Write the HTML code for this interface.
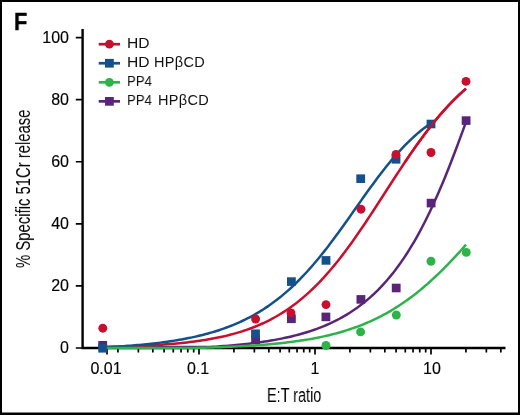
<!DOCTYPE html>
<html><head><meta charset="utf-8"><title>F</title>
<style>
html,body{margin:0;padding:0;background:#fff;}
body{width:520px;height:415px;position:relative;overflow:hidden;font-family:"Liberation Sans",sans-serif;color:#000;-webkit-text-stroke:0.15px #000;}
svg{position:absolute;left:0;top:0;}
.t{position:absolute;white-space:nowrap;line-height:1;will-change:transform;}
.yt{font-size:16px;text-align:right;width:40px;left:29.3px;}
.xt{font-size:16px;text-align:center;width:60px;top:360.7px;}
.lg{font-size:14.5px;transform-origin:0 0;-webkit-text-stroke:0;color:#111;}
.cond{font-size:20px;transform-origin:0 0;-webkit-text-stroke:0;}
</style></head><body>
<svg width="520" height="415" viewBox="0 0 520 415">
<path d="M0,0H520V415H0Z M2,2V412.4H518V2Z" fill="#000" fill-rule="evenodd"/>
<path d="M82.6,29 V349.1 M81.5,348 H505.5" stroke="#000" stroke-width="2.4" fill="none"/>
<path d="M75.8,348.00 H82 M75.8,285.92 H82 M75.8,223.84 H82 M75.8,161.76 H82 M75.8,99.68 H82 M75.8,37.60 H82 " stroke="#000" stroke-width="1.7" fill="none"/>
<path d="M107,348 V354.6 M199.00,348 V354.6 M315.00,348 V354.6 M431.00,348 V354.6 M117.92,348 V352.4 M138.35,348 V352.4 M152.84,348 V352.4 M164.08,348 V352.4 M173.27,348 V352.4 M181.03,348 V352.4 M187.76,348 V352.4 M193.69,348 V352.4 M233.92,348 V352.4 M254.35,348 V352.4 M268.84,348 V352.4 M280.08,348 V352.4 M289.27,348 V352.4 M297.03,348 V352.4 M303.76,348 V352.4 M309.69,348 V352.4 M349.92,348 V352.4 M370.35,348 V352.4 M384.84,348 V352.4 M396.08,348 V352.4 M405.27,348 V352.4 M413.03,348 V352.4 M419.76,348 V352.4 M425.69,348 V352.4 M465.92,348 V352.4 M486.35,348 V352.4 M500.84,348 V352.4 " stroke="#000" stroke-width="1.7" fill="none"/>
<path d="M107.00,346.91 L109.58,346.91 L112.17,346.91 L114.75,346.91 L117.33,346.91 L119.91,346.91 L122.50,346.91 L125.08,346.91 L127.66,346.91 L130.24,346.91 L132.83,346.91 L135.41,346.91 L137.99,346.91 L140.58,346.91 L143.16,346.91 L145.74,346.91 L148.32,346.91 L150.91,346.91 L153.49,346.91 L156.07,346.91 L158.65,346.91 L161.24,346.91 L163.82,346.91 L166.40,346.91 L168.99,346.91 L171.57,346.91 L174.15,346.91 L176.73,346.91 L179.32,346.91 L181.90,346.91 L184.48,346.91 L187.06,346.91 L189.65,346.91 L192.23,346.91 L194.81,346.91 L197.40,346.91 L199.98,346.91 L202.56,346.91 L205.14,346.91 L207.73,346.91 L210.31,346.91 L212.89,346.80 L215.47,346.64 L218.06,346.46 L220.64,346.28 L223.22,346.09 L225.81,345.89 L228.39,345.68 L230.97,345.47 L233.55,345.24 L236.14,345.00 L238.72,344.75 L241.30,344.50 L243.88,344.23 L246.47,343.94 L249.05,343.65 L251.63,343.34 L254.22,343.02 L256.80,342.68 L259.38,342.33 L261.96,341.96 L264.55,341.58 L267.13,341.18 L269.71,340.76 L272.29,340.32 L274.88,339.87 L277.46,339.39 L280.04,338.89 L282.63,338.37 L285.21,337.83 L287.79,337.26 L290.37,336.67 L292.96,336.05 L295.54,335.40 L298.12,334.73 L300.71,334.02 L303.29,333.28 L305.87,332.51 L308.45,331.71 L311.04,330.87 L313.62,329.99 L316.20,329.07 L318.78,328.11 L321.37,327.11 L323.95,326.07 L326.53,324.98 L329.12,323.84 L331.70,322.65 L334.28,321.41 L336.86,320.12 L339.45,318.77 L342.03,317.35 L344.61,315.88 L347.19,314.34 L349.78,312.74 L352.36,311.06 L354.94,309.32 L357.53,307.49 L360.11,305.59 L362.69,303.61 L365.27,301.54 L367.86,299.38 L370.44,297.13 L373.02,294.79 L375.60,292.34 L378.19,289.80 L380.77,287.15 L383.35,284.38 L385.94,281.51 L388.52,278.51 L391.10,275.40 L393.68,272.16 L396.27,268.79 L398.85,265.29 L401.43,261.65 L404.01,257.87 L406.60,253.95 L409.18,249.88 L411.76,245.66 L414.35,241.28 L416.93,236.76 L419.51,232.07 L422.09,227.23 L424.68,222.22 L427.26,217.05 L429.84,211.72 L432.42,206.23 L435.01,200.58 L437.59,194.77 L440.17,188.81 L442.76,182.69 L445.34,176.43 L447.92,170.02 L450.50,163.49 L453.09,156.82 L455.67,150.04 L458.25,143.15 L460.83,136.16 L463.42,129.09 L466.00,121.96" stroke="#5a2579" stroke-width="2.5" fill="none" stroke-linecap="butt"/>
<path d="M107.00,346.99 L109.58,346.92 L112.17,346.86 L114.75,346.79 L117.33,346.72 L119.91,346.64 L122.50,346.56 L125.08,346.48 L127.66,346.39 L130.24,346.29 L132.83,346.19 L135.41,346.09 L137.99,345.98 L140.58,345.87 L143.16,345.74 L145.74,345.62 L148.32,345.48 L150.91,345.34 L153.49,345.19 L156.07,345.04 L158.65,344.87 L161.24,344.70 L163.82,344.52 L166.40,344.33 L168.99,344.12 L171.57,343.91 L174.15,343.69 L176.73,343.45 L179.32,343.21 L181.90,342.95 L184.48,342.67 L187.06,342.39 L189.65,342.09 L192.23,341.77 L194.81,341.44 L197.40,341.09 L199.98,340.72 L202.56,340.33 L205.14,339.92 L207.73,339.50 L210.31,339.05 L212.89,338.58 L215.47,338.09 L218.06,337.57 L220.64,337.02 L223.22,336.45 L225.81,335.85 L228.39,335.22 L230.97,334.57 L233.55,333.88 L236.14,333.15 L238.72,332.39 L241.30,331.60 L243.88,330.76 L246.47,329.89 L249.05,328.98 L251.63,328.03 L254.22,327.03 L256.80,325.98 L259.38,324.89 L261.96,323.75 L264.55,322.56 L267.13,321.31 L269.71,320.01 L272.29,318.66 L274.88,317.24 L277.46,315.77 L280.04,314.24 L282.63,312.64 L285.21,310.98 L287.79,309.25 L290.37,307.45 L292.96,305.58 L295.54,303.65 L298.12,301.63 L300.71,299.55 L303.29,297.39 L305.87,295.15 L308.45,292.84 L311.04,290.45 L313.62,287.98 L316.20,285.43 L318.78,282.80 L321.37,280.09 L323.95,277.30 L326.53,274.43 L329.12,271.48 L331.70,268.46 L334.28,265.36 L336.86,262.18 L339.45,258.93 L342.03,255.61 L344.61,252.22 L347.19,248.76 L349.78,245.24 L352.36,241.66 L354.94,238.01 L357.53,234.31 L360.11,230.57 L362.69,226.77 L365.27,222.93 L367.86,219.06 L370.44,215.15 L373.02,211.21 L375.60,207.24 L378.19,203.26 L380.77,199.26 L383.35,195.26 L385.94,191.25 L388.52,187.25 L391.10,183.25 L393.68,179.26 L396.27,175.30 L398.85,171.35 L401.43,167.44 L404.01,163.55 L406.60,159.70 L409.18,155.90 L411.76,152.14 L414.35,148.43 L416.93,144.77 L419.51,141.18 L422.09,137.64 L424.68,134.16 L427.26,130.76 L429.84,127.42 L432.42,124.15 L435.01,120.95 L437.59,117.83 L440.17,114.79 L442.76,111.82 L445.34,108.93 L447.92,106.12 L450.50,103.39 L453.09,100.73 L455.67,98.16 L458.25,95.67 L460.83,93.25 L463.42,90.91 L466.00,88.65" stroke="#c8102e" stroke-width="2.5" fill="none" stroke-linecap="butt"/>
<path d="M107.00,347.17 L109.33,347.05 L111.66,346.92 L113.99,346.78 L116.32,346.64 L118.65,346.49 L120.99,346.34 L123.32,346.18 L125.65,346.02 L127.98,345.85 L130.31,345.67 L132.64,345.49 L134.97,345.29 L137.30,345.10 L139.63,344.89 L141.96,344.67 L144.29,344.45 L146.63,344.22 L148.96,343.98 L151.29,343.73 L153.62,343.47 L155.95,343.19 L158.28,342.91 L160.61,342.62 L162.94,342.32 L165.27,342.00 L167.60,341.67 L169.94,341.33 L172.27,340.98 L174.60,340.61 L176.93,340.23 L179.26,339.83 L181.59,339.42 L183.92,338.99 L186.25,338.55 L188.58,338.09 L190.91,337.61 L193.24,337.11 L195.58,336.60 L197.91,336.06 L200.24,335.50 L202.57,334.92 L204.90,334.32 L207.23,333.70 L209.56,333.05 L211.89,332.38 L214.22,331.69 L216.55,330.96 L218.88,330.21 L221.22,329.43 L223.55,328.63 L225.88,327.79 L228.21,326.92 L230.54,326.02 L232.87,325.09 L235.20,324.12 L237.53,323.12 L239.86,322.08 L242.19,321.00 L244.53,319.89 L246.86,318.73 L249.19,317.54 L251.52,316.30 L253.85,315.02 L256.18,313.69 L258.51,312.32 L260.84,310.90 L263.17,309.44 L265.50,307.92 L267.83,306.36 L270.17,304.74 L272.50,303.07 L274.83,301.35 L277.16,299.57 L279.49,297.74 L281.82,295.86 L284.15,293.91 L286.48,291.91 L288.81,289.85 L291.14,287.73 L293.47,285.55 L295.81,283.31 L298.14,281.01 L300.47,278.65 L302.80,276.23 L305.13,273.76 L307.46,271.22 L309.79,268.62 L312.12,265.97 L314.45,263.26 L316.78,260.50 L319.12,257.68 L321.45,254.80 L323.78,251.88 L326.11,248.91 L328.44,245.89 L330.77,242.83 L333.10,239.73 L335.43,236.59 L337.76,233.42 L340.09,230.21 L342.42,226.98 L344.76,223.72 L347.09,220.45 L349.42,217.16 L351.75,213.85 L354.08,210.55 L356.41,207.23 L358.74,203.93 L361.07,200.63 L363.40,197.34 L365.73,194.07 L368.06,190.81 L370.40,187.59 L372.73,184.39 L375.06,181.23 L377.39,178.11 L379.72,175.03 L382.05,172.00 L384.38,169.02 L386.71,166.09 L389.04,163.22 L391.37,160.41 L393.71,157.65 L396.04,154.97 L398.37,152.35 L400.70,149.80 L403.03,147.31 L405.36,144.90 L407.69,142.56 L410.02,140.29 L412.35,138.10 L414.68,135.98 L417.01,133.93 L419.35,131.95 L421.68,130.04 L424.01,128.21 L426.34,126.44 L428.67,124.74 L431.00,123.11" stroke="#14508a" stroke-width="2.5" fill="none" stroke-linecap="butt"/>
<path d="M107.00,347.88 L109.58,347.88 L112.17,347.88 L114.75,347.88 L117.33,347.88 L119.91,347.88 L122.50,347.88 L125.08,347.88 L127.66,347.88 L130.24,347.88 L132.83,347.88 L135.41,347.88 L137.99,347.88 L140.58,347.88 L143.16,347.88 L145.74,347.88 L148.32,347.88 L150.91,347.88 L153.49,347.88 L156.07,347.88 L158.65,347.88 L161.24,347.88 L163.82,347.88 L166.40,347.88 L168.99,347.88 L171.57,347.88 L174.15,347.88 L176.73,347.88 L179.32,347.88 L181.90,347.88 L184.48,347.88 L187.06,347.88 L189.65,347.88 L192.23,347.88 L194.81,347.88 L197.40,347.87 L199.98,347.81 L202.56,347.74 L205.14,347.67 L207.73,347.59 L210.31,347.51 L212.89,347.43 L215.47,347.35 L218.06,347.25 L220.64,347.16 L223.22,347.06 L225.81,346.96 L228.39,346.85 L230.97,346.74 L233.55,346.62 L236.14,346.49 L238.72,346.36 L241.30,346.23 L243.88,346.08 L246.47,345.93 L249.05,345.78 L251.63,345.61 L254.22,345.44 L256.80,345.26 L259.38,345.08 L261.96,344.88 L264.55,344.68 L267.13,344.46 L269.71,344.24 L272.29,344.00 L274.88,343.76 L277.46,343.50 L280.04,343.24 L282.63,342.96 L285.21,342.66 L287.79,342.36 L290.37,342.04 L292.96,341.70 L295.54,341.36 L298.12,340.99 L300.71,340.61 L303.29,340.21 L305.87,339.80 L308.45,339.37 L311.04,338.92 L313.62,338.44 L316.20,337.95 L318.78,337.44 L321.37,336.90 L323.95,336.35 L326.53,335.76 L329.12,335.16 L331.70,334.52 L334.28,333.86 L336.86,333.18 L339.45,332.46 L342.03,331.72 L344.61,330.94 L347.19,330.14 L349.78,329.30 L352.36,328.43 L354.94,327.52 L357.53,326.58 L360.11,325.60 L362.69,324.58 L365.27,323.52 L367.86,322.43 L370.44,321.29 L373.02,320.11 L375.60,318.89 L378.19,317.62 L380.77,316.31 L383.35,314.95 L385.94,313.54 L388.52,312.09 L391.10,310.59 L393.68,309.03 L396.27,307.43 L398.85,305.78 L401.43,304.07 L404.01,302.31 L406.60,300.50 L409.18,298.63 L411.76,296.72 L414.35,294.74 L416.93,292.72 L419.51,290.64 L422.09,288.50 L424.68,286.31 L427.26,284.07 L429.84,281.77 L432.42,279.43 L435.01,277.03 L437.59,274.58 L440.17,272.08 L442.76,269.53 L445.34,266.94 L447.92,264.30 L450.50,261.61 L453.09,258.89 L455.67,256.12 L458.25,253.32 L460.83,250.48 L463.42,247.60 L466.00,244.70" stroke="#2db34a" stroke-width="2.5" fill="none" stroke-linecap="butt"/>
<rect x="98.30" y="341.00" width="8.8" height="8.6" fill="#5a2579"/>
<rect x="251.20" y="335.40" width="8.8" height="8.6" fill="#5a2579"/>
<rect x="287.00" y="314.50" width="8.8" height="8.6" fill="#5a2579"/>
<rect x="321.50" y="312.60" width="8.8" height="8.6" fill="#5a2579"/>
<rect x="356.50" y="295.10" width="8.8" height="8.6" fill="#5a2579"/>
<rect x="391.80" y="283.70" width="8.8" height="8.6" fill="#5a2579"/>
<rect x="426.70" y="198.80" width="8.8" height="8.6" fill="#5a2579"/>
<rect x="461.70" y="116.30" width="8.8" height="8.6" fill="#5a2579"/>
<circle cx="326.00" cy="345.50" r="4.45" fill="#2db34a"/>
<circle cx="360.60" cy="331.90" r="4.45" fill="#2db34a"/>
<circle cx="396.30" cy="315.00" r="4.45" fill="#2db34a"/>
<circle cx="431.00" cy="261.25" r="4.45" fill="#2db34a"/>
<circle cx="466.30" cy="252.40" r="4.45" fill="#2db34a"/>
<rect x="98.30" y="344.00" width="8.8" height="8.6" fill="#14508a"/>
<rect x="251.10" y="329.45" width="8.8" height="8.6" fill="#14508a"/>
<rect x="287.00" y="277.30" width="8.8" height="8.6" fill="#14508a"/>
<rect x="321.60" y="256.10" width="8.8" height="8.6" fill="#14508a"/>
<rect x="356.30" y="174.40" width="8.8" height="8.6" fill="#14508a"/>
<rect x="391.60" y="155.00" width="8.8" height="8.6" fill="#14508a"/>
<rect x="426.60" y="119.70" width="8.8" height="8.6" fill="#14508a"/>
<path d="M405.00,162.08 L406.56,159.75 L408.13,157.44 L409.69,155.15 L411.26,152.87 L412.82,150.61 L414.38,148.37 L415.95,146.15 L417.51,143.95 L419.08,141.78 L420.64,139.62 L422.21,137.49 L423.77,135.38 L425.33,133.29 L426.90,131.23 L428.46,129.19 L430.03,127.18 L431.59,125.20 L433.15,123.24 L434.72,121.31 L436.28,119.40 L437.85,117.53 L439.41,115.68 L440.97,113.86 L442.54,112.07 L444.10,110.30 L445.67,108.57 L447.23,106.86 L448.79,105.19 L450.36,103.54 L451.92,101.92 L453.49,100.33 L455.05,98.77 L456.62,97.24 L458.18,95.73 L459.74,94.26 L461.31,92.81 L462.87,91.40 L464.44,90.01 L466.00,88.65" stroke="#c8102e" stroke-width="2.5" fill="none"/>
<circle cx="102.80" cy="328.20" r="4.45" fill="#c8102e"/>
<circle cx="255.60" cy="319.00" r="4.45" fill="#c8102e"/>
<circle cx="291.00" cy="312.90" r="4.45" fill="#c8102e"/>
<circle cx="326.00" cy="304.60" r="4.45" fill="#c8102e"/>
<circle cx="361.00" cy="209.20" r="4.45" fill="#c8102e"/>
<circle cx="396.00" cy="154.40" r="4.45" fill="#c8102e"/>
<circle cx="431.00" cy="152.50" r="4.45" fill="#c8102e"/>
<circle cx="466.00" cy="81.40" r="4.45" fill="#c8102e"/>
<path d="M98.7,44.20 H120" stroke="#c8102e" stroke-width="2.7"/>
<circle cx="109.4" cy="44.20" r="4.4" fill="#c8102e"/>
<path d="M98.7,63.25 H120" stroke="#14508a" stroke-width="2.7"/>
<rect x="105" y="58.90" width="8.8" height="8.7" fill="#14508a"/>
<path d="M98.7,82.30 H120" stroke="#2db34a" stroke-width="2.7"/>
<circle cx="109.4" cy="82.30" r="4.4" fill="#2db34a"/>
<path d="M98.7,101.35 H120" stroke="#5a2579" stroke-width="2.7"/>
<rect x="105" y="97.00" width="8.8" height="8.7" fill="#5a2579"/>
</svg>
<div class="t" style="left:13.7px;top:10.8px;font-size:23.5px;font-weight:bold;color:#000;-webkit-text-stroke:0.4px #000;transform-origin:0 0;transform:scaleX(0.92)">F</div>
<div class="t yt" style="top:30.0px">100</div>
<div class="t yt" style="top:92.1px">80</div>
<div class="t yt" style="top:154.2px">60</div>
<div class="t yt" style="top:216.2px">40</div>
<div class="t yt" style="top:278.3px">20</div>
<div class="t yt" style="top:340.4px">0</div>
<div class="t xt" style="left:76px">0.01</div>
<div class="t xt" style="left:167.5px">0.1</div>
<div class="t xt" style="left:285px">1</div>
<div class="t xt" style="left:402px">10</div>
<div class="t lg" style="left:127px;top:36.2px;transform:scaleX(1.075)">HD</div>
<div class="t lg" style="left:127px;top:55.2px;transform:scaleX(1.075)">HD</div>
<div class="t lg" style="left:154.25px;top:55.2px;letter-spacing:0.33px">HP&beta;CD</div>
<div class="t lg" style="left:127.1px;top:74.4px;transform:scaleX(0.909)">PP4</div>
<div class="t lg" style="left:127.1px;top:93.4px;transform:scaleX(0.909)">PP4</div>
<div class="t lg" style="left:158.25px;top:93.4px;letter-spacing:0.33px">HP&beta;CD</div>
<div class="t cond" id="xl" style="left:267px;top:384.7px;transform:scaleX(0.722);">E:T ratio</div>
<div class="t cond" id="yl" style="font-size:20.5px;left:13.4px;top:268px;transform:rotate(-90deg) scaleX(0.7245);">% Specific 51Cr release</div>
</body></html>
